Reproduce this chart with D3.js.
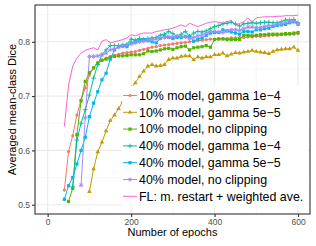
<!DOCTYPE html>
<html>
<head>
<meta charset="utf-8">
<script src="https://cdn.jsdelivr.net/npm/d3@7"></script>
<style>
  body { margin: 0; background: #fff; }
  text { font-family: "Liberation Sans", Arial, sans-serif; }
</style>
</head>
<body>
<div id="chart"></div>
<script>
// series names, in legend order
const names = [
  "10% model, gamma 1e\u22124",
  "10% model, gamma 5e\u22125",
  "10% model, no clipping",
  "40% model, gamma 1e\u22124",
  "40% model, gamma 5e\u22125",
  "40% model, no clipping",
  "FL: m. restart + weighted ave."
];
const colors = ["#F8766D", "#C49A00", "#53B400", "#00C094", "#00B6EB", "#A58AFF", "#FB61D7"];
const shapes = ["circle", "triangle", "square", "plus", "square", "star", "none"];

// first epoch of each series, values follow every 10 epochs
const startEpochs = [40, 100, 50, 60, 40, 80, 40];

const dice10g4 = [0.527, 0.598, 0.627, 0.665, 0.693, 0.715, 0.739, 0.752, 0.762, 0.766,
  0.770, 0.773, 0.775, 0.777, 0.779, 0.780, 0.781, 0.782, 0.784, 0.786,
  0.788, 0.790, 0.791, 0.793, 0.794, 0.795, 0.796, 0.797, 0.798, 0.799,
  0.800, 0.801, 0.802, 0.803, 0.804, 0.805, 0.805, 0.806, 0.806, 0.806,
  0.807, 0.807, 0.808, 0.808, 0.809, 0.809, 0.810, 0.810, 0.811, 0.811,
  0.812, 0.812, 0.813, 0.813, 0.814, 0.814, 0.815];
const dice10g5 = [0.524, 0.566, 0.597, 0.615, 0.636, 0.655, 0.665, 0.677, 0.690, 0.705,
  0.715, 0.724, 0.736, 0.746, 0.755, 0.758, 0.755, 0.756, 0.758, 0.767,
  0.770, 0.770, 0.773, 0.774, 0.774, 0.767, 0.772, 0.770, 0.772, 0.772,
  0.776, 0.776, 0.779, 0.774, 0.777, 0.780, 0.779, 0.781, 0.782, 0.784,
  0.782, 0.781, 0.780, 0.778, 0.782, 0.785, 0.786, 0.787, 0.787, 0.790, 0.784];
const dice10nc = [0.506, 0.530, 0.629, 0.691, 0.727, 0.743, 0.752, 0.760, 0.766, 0.768,
  0.771, 0.773, 0.774, 0.774, 0.775, 0.776, 0.776, 0.776, 0.778, 0.783,
  0.782, 0.783, 0.785, 0.787, 0.788, 0.786, 0.789, 0.791, 0.792, 0.785,
  0.789, 0.790, 0.791, 0.793, 0.790, 0.804, 0.805, 0.805, 0.804, 0.804,
  0.804, 0.804, 0.812, 0.812, 0.811, 0.812, 0.813, 0.813, 0.814, 0.814,
  0.814, 0.814, 0.815, 0.815, 0.816, 0.817];
const dice40g4 = [0.533, 0.619, 0.650, 0.675, 0.702, 0.733, 0.758, 0.776, 0.785, 0.793,
  0.793, 0.793, 0.794, 0.795, 0.805, 0.803, 0.806, 0.804, 0.806, 0.807,
  0.808, 0.812, 0.814, 0.819, 0.815, 0.810, 0.814, 0.819, 0.810, 0.816,
  0.819, 0.818, 0.820, 0.824, 0.828, 0.830, 0.833, 0.834, 0.836, 0.833,
  0.829, 0.833, 0.834, 0.835, 0.834, 0.835, 0.836, 0.836, 0.835, 0.835,
  0.837, 0.840, 0.840, 0.841, 0.835];
const dice40g5 = [0.510, 0.535, 0.550, 0.575, 0.600, 0.624, 0.662, 0.687, 0.708, 0.730,
  0.742, 0.768, 0.785, 0.791, 0.792, 0.791, 0.798, 0.800, 0.802, 0.804,
  0.802, 0.800, 0.798, 0.806, 0.810, 0.808, 0.806, 0.808, 0.808, 0.810,
  0.810, 0.801, 0.805, 0.807, 0.812, 0.816, 0.817, 0.817, 0.822, 0.820,
  0.818, 0.816, 0.814, 0.819, 0.819, 0.818, 0.822, 0.822, 0.824, 0.825,
  0.828, 0.830, 0.831, 0.832, 0.835, 0.837, 0.832];
const dice40nc = [0.536, 0.660, 0.773, 0.773, 0.774, 0.776, 0.779, 0.785, 0.787, 0.790,
  0.792, 0.794, 0.796, 0.798, 0.800, 0.801, 0.803, 0.804, 0.805, 0.807,
  0.808, 0.809, 0.809, 0.810, 0.810, 0.809, 0.806, 0.808, 0.811, 0.813,
  0.816, 0.819, 0.819, 0.818, 0.817, 0.820, 0.822, 0.822, 0.821, 0.824,
  0.827, 0.827, 0.826, 0.826, 0.828, 0.830, 0.830, 0.832, 0.833, 0.835,
  0.837, 0.837, 0.833];
const diceFL = [0.644, 0.720, 0.755, 0.770, 0.779, 0.784, 0.787, 0.789, 0.785, 0.801,
  0.804, 0.798, 0.800, 0.802, 0.804, 0.807, 0.813, 0.811, 0.814, 0.816,
  0.816, 0.816, 0.819, 0.820, 0.822, 0.823, 0.825, 0.828, 0.831, 0.828,
  0.834, 0.831, 0.828, 0.831, 0.834, 0.836, 0.837, 0.836, 0.834, 0.837,
  0.839, 0.830, 0.834, 0.837, 0.844, 0.836, 0.844, 0.845, 0.846, 0.846,
  0.846, 0.847, 0.847, 0.848, 0.848, 0.848, 0.849];

const seriesValues = [dice10g4, dice10g5, dice10nc, dice40g4, dice40g5, dice40nc, diceFL];

const xTicks = [0, 200, 400, 600];
const yTicks = [0.5, 0.6, 0.7, 0.8];

let width = 316, height = 246;
let margin = {top: 5, right: 6, bottom: 32, left: 35};

let svg = d3.select("#chart")
  .append("svg")
  .attr("width", width)
  .attr("height", height);

let x = d3.scaleLinear()
  .domain([-30.4, 628.7])
  .range([margin.left, width - margin.right]);

let y = d3.scaleLinear()
  .domain([0.4829, 0.8677])
  .range([height - margin.bottom, margin.top]);

// grid
let grid = svg.append("g");
[100, 300, 500].forEach(v => {
  grid.append("line").attr("x1", x(v)).attr("x2", x(v))
    .attr("y1", margin.top).attr("y2", height - margin.bottom)
    .attr("stroke", "#f2f2f2").attr("stroke-width", 0.55);
});
[0.55, 0.65, 0.75, 0.85].forEach(v => {
  grid.append("line").attr("x1", margin.left).attr("x2", width - margin.right)
    .attr("y1", y(v)).attr("y2", y(v))
    .attr("stroke", "#f2f2f2").attr("stroke-width", 0.55);
});
xTicks.forEach(v => {
  grid.append("line").attr("x1", x(v)).attr("x2", x(v))
    .attr("y1", margin.top).attr("y2", height - margin.bottom)
    .attr("stroke", "#ebebeb").attr("stroke-width", 1.1);
});
yTicks.forEach(v => {
  grid.append("line").attr("x1", margin.left).attr("x2", width - margin.right)
    .attr("y1", y(v)).attr("y2", y(v))
    .attr("stroke", "#ebebeb").attr("stroke-width", 1.1);
});

// build point data
let series = seriesValues.map((vals, i) => ({
  name: names[i],
  color: colors[i],
  shape: shapes[i],
  points: vals.map((v, j) => ({epoch: startEpochs[i] + j * 10, value: v}))
}));

let line = d3.line()
  .x(d => x(d.epoch))
  .y(d => y(d.value));

let plot = svg.append("g");

series.forEach(s => {
  plot.append("path")
    .datum(s.points)
    .attr("d", line)
    .attr("fill", "none")
    .attr("stroke", s.color)
    .attr("stroke-width", 1);
});

function drawShape(g, shape, cx, cy, color) {
  if (shape === "circle") {
    g.append("circle").attr("cx", cx).attr("cy", cy).attr("r", 1.6).attr("fill", color);
  } else if (shape === "triangle") {
    g.append("path").attr("transform", `translate(${cx},${cy})`)
      .attr("d", d3.symbol(d3.symbolTriangle, 9)()).attr("fill", color);
  } else if (shape === "square") {
    g.append("rect").attr("x", cx - 1.6).attr("y", cy - 1.6)
      .attr("width", 3.2).attr("height", 3.2).attr("fill", color);
  } else if (shape === "plus") {
    g.append("path")
      .attr("d", `M${cx - 2.3},${cy}H${cx + 2.3}M${cx},${cy - 2.3}V${cy + 2.3}`)
      .attr("stroke", color).attr("stroke-width", 0.9);
  } else if (shape === "star") {
    g.append("path")
      .attr("d", `M${cx - 2.2},${cy}H${cx + 2.2}M${cx},${cy - 2.2}V${cy + 2.2}` +
        `M${cx - 1.6},${cy - 1.6}L${cx + 1.6},${cy + 1.6}M${cx - 1.6},${cy + 1.6}L${cx + 1.6},${cy - 1.6}`)
      .attr("stroke", color).attr("stroke-width", 0.9);
  }
}

series.forEach(s => {
  if (s.shape === "none") return;
  s.points.forEach(p => drawShape(plot, s.shape, x(p.epoch), y(p.value), s.color));
});

// legend
let legend = svg.append("g");
let legTop = 86, legStep = 16.8;
legend.append("rect")
  .attr("x", 122).attr("y", legTop)
  .attr("width", 186).attr("height", 120)
  .attr("fill", "#fff");

series.forEach((s, i) => {
  let ly = legTop + 9.5 + i * legStep;
  legend.append("line")
    .attr("x1", 123).attr("x2", 137)
    .attr("y1", ly).attr("y2", ly)
    .attr("stroke", s.color).attr("stroke-width", 1);
  drawShape(legend, s.shape, 130, ly, s.color);
  legend.append("text")
    .attr("x", 139).attr("y", ly)
    .attr("dy", "0.35em")
    .style("font-size", "12.4px")
    .attr("fill", "#000")
    .text(s.name);
});

// panel border
svg.append("rect")
  .attr("x", margin.left).attr("y", margin.top)
  .attr("width", width - margin.right - margin.left)
  .attr("height", height - margin.bottom - margin.top)
  .attr("fill", "none")
  .attr("stroke", "#333").attr("stroke-width", 1.1);

// axes
let xAxis = svg.append("g")
  .attr("transform", `translate(0,${height - margin.bottom})`)
  .call(d3.axisBottom(x).tickValues(xTicks).tickSize(3).tickPadding(2).tickFormat(d3.format("d")));
let yAxis = svg.append("g")
  .attr("transform", `translate(${margin.left},0)`)
  .call(d3.axisLeft(y).tickValues(yTicks).tickSize(3).tickPadding(2).tickFormat(d3.format(".1f")));

[xAxis, yAxis].forEach(a => {
  a.select(".domain").remove();
  a.selectAll(".tick line").attr("stroke", "#333").attr("stroke-width", 1.1);
  a.selectAll(".tick text")
    .attr("fill", "#4d4d4d")
    .style("font-size", "8.5px")
    .style("font-family", "'Liberation Sans', Arial, sans-serif");
});

// axis titles
svg.append("text")
  .attr("x", (margin.left + width - margin.right) / 2)
  .attr("y", 236)
  .attr("text-anchor", "middle")
  .style("font-size", "11px")
  .text("Number of epochs");

svg.append("text")
  .attr("transform", "rotate(-90)")
  .attr("x", -(margin.top + height - margin.bottom) / 2)
  .attr("y", 16)
  .attr("text-anchor", "middle")
  .style("font-size", "11px")
  .text("Averaged mean-class Dice");
</script>
</body>
</html>
